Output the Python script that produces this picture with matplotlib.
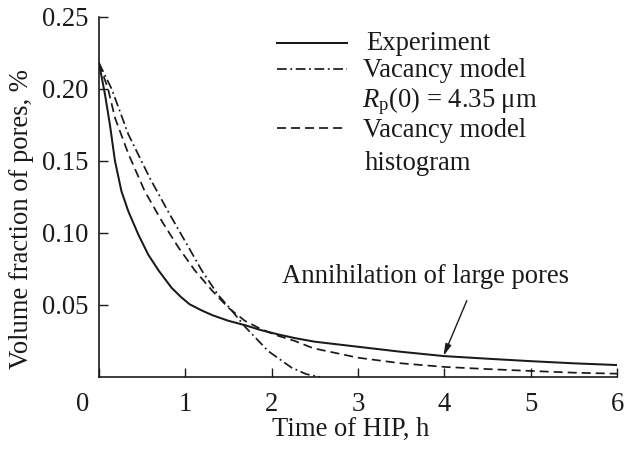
import matplotlib
matplotlib.use("Agg")
import matplotlib.pyplot as plt
from matplotlib.transforms import ScaledTranslation

# ---- data ----
t_exp = [0, 0.07, 0.127, 0.185, 0.26, 0.34, 0.455, 0.57, 0.69, 0.84, 0.95, 1.05, 1.18, 1.31,
         1.5, 1.69, 1.88, 2.08, 2.27, 2.5, 3.0, 3.5, 4.0, 4.5, 5.0, 5.5, 6.0]
v_exp = [0.218, 0.196, 0.175, 0.150, 0.129, 0.115, 0.099, 0.085, 0.074, 0.062, 0.0555, 0.0505,
         0.0465, 0.043, 0.039, 0.036, 0.0325, 0.0295, 0.027, 0.0245, 0.021, 0.0175, 0.0145,
         0.0127, 0.011, 0.0095, 0.0083]

t_vac = [0, 0.147, 0.34, 0.59, 0.80, 1.0, 1.19, 1.38, 1.54, 1.69, 1.96, 2.23, 2.4, 2.56]
v_vac = [0.218, 0.200, 0.1685, 0.138, 0.115, 0.094, 0.074, 0.057, 0.046, 0.035, 0.018, 0.0065, 0.002, 0.0]

t_hist = [0, 0.105, 0.185, 0.34, 0.53, 0.73, 0.92, 1.11, 1.31, 1.50, 1.69, 1.885, 2.08,
          2.27, 2.48, 3.0, 3.5, 4.0, 4.5, 5.0, 5.5, 6.0]
v_hist = [0.218, 0.200, 0.180, 0.155, 0.129, 0.108, 0.090, 0.074, 0.060, 0.048, 0.039, 0.033, 0.0285,
          0.025, 0.020, 0.0134, 0.0095, 0.007, 0.0055, 0.0042, 0.003, 0.0023]

x_ticks = [0, 1, 2, 3, 4, 5, 6]
y_ticks = [0.05, 0.10, 0.15, 0.20, 0.25]
y_ticklabels = ["0.05", "0.10", "0.15", "0.20", "0.25"]

legend_labels = ["Experiment", "Vacancy model", r"$R_\mathrm{p}$(0) = 4.35 μm",
                 "Vacancy model", "histogram"]
annot_text = "Annihilation of large pores"

# ---- style ----
plt.rcParams['font.family'] = ['Liberation Serif', 'DejaVu Serif']
plt.rcParams['mathtext.fontset'] = 'custom'
plt.rcParams['mathtext.rm'] = 'Liberation Serif'
plt.rcParams['mathtext.it'] = 'Liberation Serif:italic'
plt.rcParams['lines.scale_dashes'] = False
FS = 19.2
col = '#1a1a1a'

fig = plt.figure(figsize=(6.34, 4.49), dpi=100)
ax = fig.add_axes([99/634, 1-377/449, 518/634, 360/449])

dashdot = (0, (7.0, 2.6, 1.3, 2.6))
dashed = (0, (6.5, 3.6))

ax.plot(t_exp, v_exp, color=col, lw=1.45, ls='-')
ax.plot(t_vac, v_vac, color=col, lw=1.25, ls=dashdot)
ax.plot(t_hist, v_hist, color=col, lw=1.25, ls=dashed)

ax.set_xlim(0, 6)
ax.set_ylim(0, 0.25)
for s in ['top', 'right']:
    ax.spines[s].set_visible(False)
for s in ['left', 'bottom']:
    ax.spines[s].set_linewidth(1.2)
    ax.spines[s].set_color(col)

ax.set_xticks(x_ticks)
ax.set_xticklabels([str(v) for v in x_ticks])
ax.set_yticks(y_ticks)
ax.set_yticklabels(y_ticklabels)
ax.tick_params(axis='both', direction='in', length=6.5, width=1.0, colors=col,
               labelsize=FS, labelcolor=col)
ax.tick_params(axis='x', pad=10.5)
ax.tick_params(axis='y', pad=8)

# shift the "0" label left of the corner
lbl0 = ax.get_xticklabels()[0]
lbl0.set_transform(lbl0.get_transform() + ScaledTranslation(-16/100, 0, fig.dpi_scale_trans))

ax.set_xlabel("Time of HIP, h", fontsize=FS, color=col)
ax.xaxis.set_label_coords(0.485, -0.11)
ax.xaxis.label.set_va('top')
ax.set_ylabel("Volume fraction of pores, %", fontsize=FS, color=col)
ax.yaxis.set_label_coords(-0.125, 0.44)

# legend keys (axes fraction)
ax.plot([0.344, 0.479], [0.929, 0.929], color=col, lw=1.45, ls='-', transform=ax.transAxes)
ax.plot([0.344, 0.479], [0.856, 0.856], color=col, lw=1.25, ls=dashdot, transform=ax.transAxes)
ax.plot([0.344, 0.479], [0.692, 0.692], color=col, lw=1.25, ls=dashed, transform=ax.transAxes)
leg_pos = [(0.515, 0.908), (0.510, 0.834), (0.507, 0.750), (0.510, 0.667), (0.512, 0.575)]
for (x, y), s in zip(leg_pos, legend_labels):
    ax.text(x, y, s, transform=ax.transAxes, fontsize=FS, color=col, ha='left', va='baseline')

ax.text(2.12, 0.070, annot_text, fontsize=FS, color=col, ha='left', va='center')
ax.annotate('', xy=(3.99, 0.0146), xytext=(4.26, 0.053),
            arrowprops=dict(arrowstyle='-|>,head_length=0.7,head_width=0.18',
                            color=col, lw=1.0, shrinkA=0, shrinkB=0))

fig.savefig("out.png", dpi=100)
